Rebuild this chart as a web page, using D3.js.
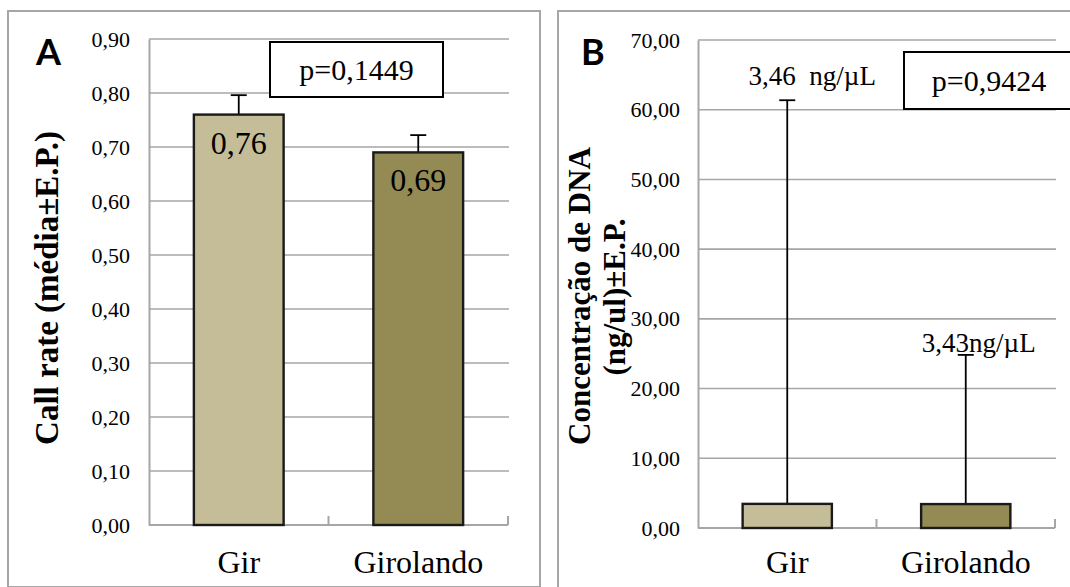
<!DOCTYPE html>
<html>
<head>
<meta charset="utf-8">
<script src="https://cdn.jsdelivr.net/npm/d3@7"></script>
<style>
  body { margin: 0; background: #fff; }
  svg { display: block; }
  text { font-family: "Liberation Serif", "Times New Roman", Times, serif; fill: #000; white-space: pre; }
</style>
</head>
<body>
<svg id="chart" width="1070" height="587"></svg>
<script>
// data
var breeds = ["Gir", "Girolando"];
var callRate = [0.76, 0.69];
var callRateErr = [0.036, 0.032];
var callRateLabels = ["0,76", "0,69"];
var callRateTicks = [0, 0.1, 0.2, 0.3, 0.4, 0.5, 0.6, 0.7, 0.8, 0.9];

var dnaConc = [3.46, 3.43];
var dnaConcErr = [57.9, 21.4];
var dnaConcLabels = ["3,46  ng/\u00b5L", "3,43ng/\u00b5L"];
var dnaTicks = [0, 10, 20, 30, 40, 50, 60, 70];

var colors = ["#c4bd97", "#948a54"];

var svg = d3.select("#chart");
var fmt2 = d3.format(".2f");
var comma = function(v) { return fmt2(v).replace(".", ","); };

// panel frames
svg.append("rect").attr("x", 8).attr("y", 11).attr("width", 532).attr("height", 576)
    .attr("fill", "none").attr("stroke", "#a6a6a6").attr("stroke-width", 2);
svg.append("rect").attr("x", 558).attr("y", 11).attr("width", 540).attr("height", 600)
    .attr("fill", "none").attr("stroke", "#a6a6a6").attr("stroke-width", 2);

function panel(opt) {
    var g = svg.append("g");
    var x = d3.scaleBand().domain(breeds).range([opt.left, opt.right])
        .paddingInner(0.5).paddingOuter(0.25);
    var y = d3.scaleLinear().domain(opt.domain).range([opt.bottom, opt.top]);

    // gridlines
    g.selectAll(".grid").data(opt.ticks.slice(1)).enter().append("line")
        .attr("x1", opt.left).attr("x2", opt.right + 1)
        .attr("y1", d => y(d)).attr("y2", d => y(d))
        .attr("stroke", "#a6a6a6").attr("stroke-width", 1.6);

    // y axis
    var ya = g.append("g").attr("transform", `translate(${opt.left},0)`)
        .call(d3.axisLeft(y).tickValues(opt.ticks).tickSize(0).tickPadding(opt.pad)
            .tickFormat(opt.fmt));
    ya.attr("font-family", null);
    ya.select(".domain").attr("stroke", "#a6a6a6").attr("stroke-width", 2);
    ya.selectAll("text").style("font-size", "22px").attr("fill", "#000");

    // x axis line + inner ticks at band boundaries
    g.append("line").attr("x1", opt.left).attr("x2", opt.right)
        .attr("y1", opt.bottom).attr("y2", opt.bottom)
        .attr("stroke", "#a6a6a6").attr("stroke-width", 2);
    var step = x.step();
    g.selectAll(".xt").data([1, 2]).enter().append("line")
        .attr("x1", d => opt.left + d * step).attr("x2", d => opt.left + d * step)
        .attr("y1", opt.bottom).attr("y2", opt.bottom - 9)
        .attr("stroke", "#a6a6a6").attr("stroke-width", 2);

    g.selectAll(".xl").data(breeds).enter().append("text")
        .attr("x", d => x(d) + x.bandwidth() / 2).attr("y", 573)
        .attr("text-anchor", "middle").style("font-size", "32px").text(d => d);

    // error bars
    var cx = i => x(breeds[i]) + x.bandwidth() / 2;
    opt.values.forEach(function(v, i) {
        var top = y(v + opt.err[i]);
        g.append("line").attr("x1", cx(i)).attr("x2", cx(i))
            .attr("y1", y(v)).attr("y2", top).attr("stroke", "#000").attr("stroke-width", 1.8);
        g.append("line").attr("x1", cx(i) - 8).attr("x2", cx(i) + 8)
            .attr("y1", top).attr("y2", top).attr("stroke", "#000").attr("stroke-width", 1.8);
    });

    // bars
    g.selectAll(".bar").data(opt.values).enter().append("rect")
        .attr("x", (d, i) => x(breeds[i])).attr("width", x.bandwidth())
        .attr("y", d => y(d)).attr("height", d => opt.bottom - y(d))
        .attr("fill", (d, i) => colors[i]).attr("stroke", "#1a1a1a").attr("stroke-width", 2.4);

    // panel letter
    g.append("text").attr("x", opt.letterX).attr("y", 65)
        .style("font-family", "Lato, 'Liberation Sans', sans-serif").style("font-weight", "bold")
        .style("font-size", "36px").text(opt.letter);

    // p-value box
    var b = opt.pbox;
    g.append("rect").attr("x", b[0]).attr("y", b[1]).attr("width", b[2]).attr("height", b[3])
        .attr("fill", "#fff").attr("stroke", "#000").attr("stroke-width", 2);
    g.append("text").attr("x", b[0] + b[2] / 2).attr("y", b[1] + b[3] / 2 + 10)
        .attr("text-anchor", "middle").style("font-size", "30px").text(opt.pText);

    return { x: x, y: y, g: g, cx: cx };
}

// Panel A
var pa = panel({
    left: 149, right: 508, top: 39, bottom: 525, domain: [0, 0.9], ticks: callRateTicks,
    fmt: comma, pad: 19, values: callRate, err: callRateErr, letter: "A", letterX: 36,
    pbox: [270, 42, 173, 55], pText: "p=0,1449"
});
pa.g.selectAll(".vl").data(callRate).enter().append("text")
    .attr("x", (d, i) => pa.cx(i)).attr("y", d => pa.y(d) + 39)
    .attr("text-anchor", "middle").style("font-size", "32px")
    .text((d, i) => callRateLabels[i]);
pa.g.append("text").attr("transform", "translate(58,288) rotate(-90)")
    .attr("text-anchor", "middle").style("font-size", "33px").style("font-weight", "bold")
    .text("Call rate (m\u00e9dia\u00b1E.P.)");

// Panel B
var pb = panel({
    left: 698, right: 1055, top: 40, bottom: 528, domain: [0, 70], ticks: dnaTicks,
    fmt: comma, pad: 18, values: dnaConc, err: dnaConcErr, letter: "B", letterX: 581,
    pbox: [904, 52, 170, 57], pText: "p=0,9424"
});
var labelNudge = [[25, -15], [13, -3]];
pb.g.selectAll(".vl").data(dnaConc).enter().append("text")
    .attr("x", (d, i) => pb.cx(i) + labelNudge[i][0])
    .attr("y", (d, i) => pb.y(d + dnaConcErr[i]) + labelNudge[i][1])
    .attr("text-anchor", "middle").style("font-size", "27px")
    .text((d, i) => dnaConcLabels[i]);
pb.g.append("text").attr("transform", "translate(590,296) rotate(-90)")
    .attr("text-anchor", "middle").style("font-size", "31px").style("font-weight", "bold")
    .text("Concentra\u00e7\u00e3o de DNA");
pb.g.append("text").attr("transform", "translate(625,297) rotate(-90)")
    .attr("text-anchor", "middle").style("font-size", "31px").style("font-weight", "bold")
    .text("(ng/ul)\u00b1E.P.");
</script>
</body>
</html>
